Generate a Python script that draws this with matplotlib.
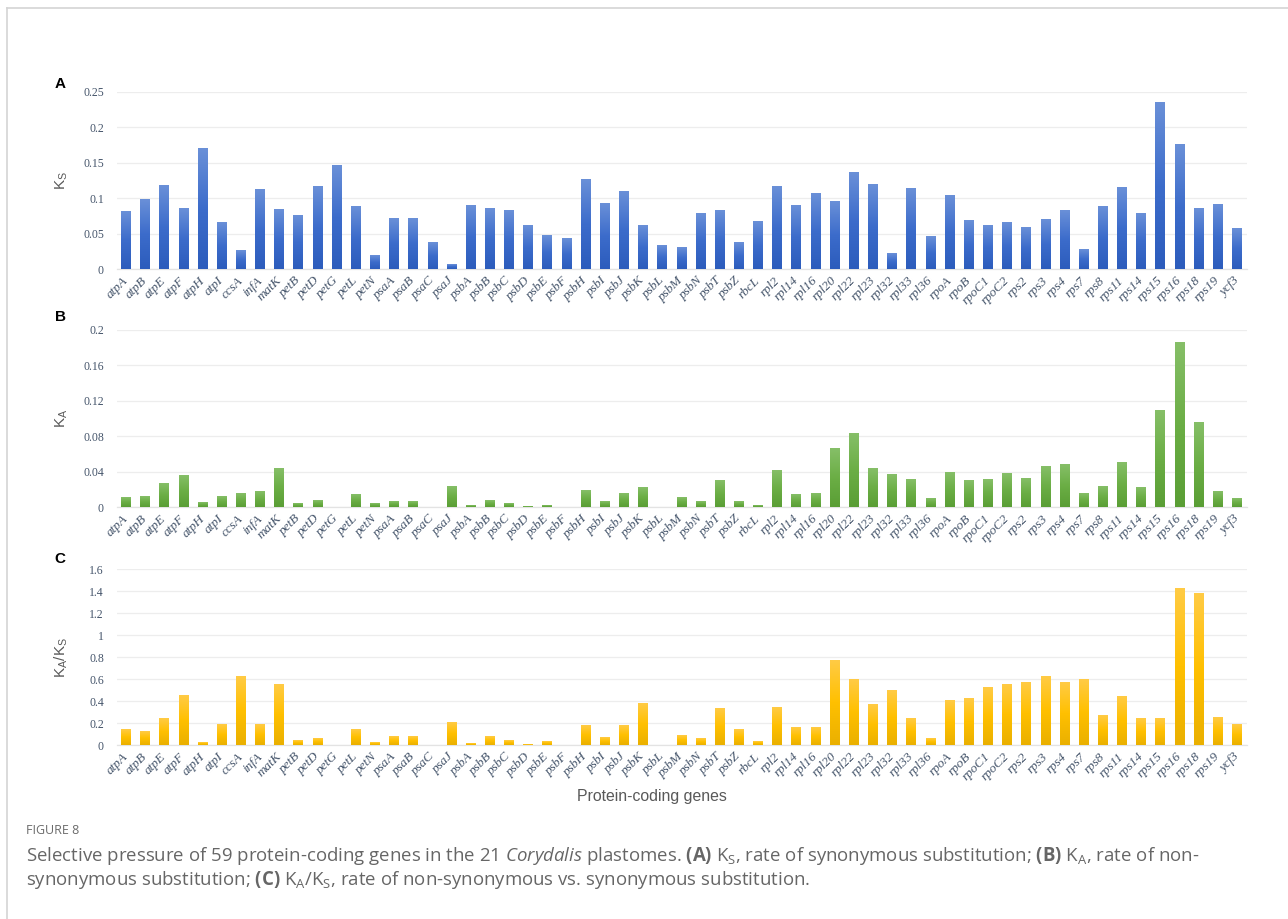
import numpy as np
import matplotlib
matplotlib.use("Agg")
import matplotlib.pyplot as plt
from matplotlib.colors import LinearSegmentedColormap
from matplotlib.lines import Line2D
from matplotlib.ticker import FuncFormatter, MultipleLocator

plt.rcParams['mathtext.fontset'] = 'custom'
plt.rcParams['mathtext.default'] = 'regular'
plt.rcParams['mathtext.rm'] = 'Open Sans'
plt.rcParams['mathtext.it'] = 'Open Sans:italic'
plt.rcParams['mathtext.bf'] = 'Open Sans:bold'

# ---------------- data: 59 plastome protein-coding genes ----------------
genes = ["atpA", "atpB", "atpE", "atpF", "atpH", "atpI", "ccsA", "infA", "matK",
         "petB", "petD", "petG", "petL", "petN", "psaA", "psaB", "psaC", "psaJ",
         "psbA", "psbB", "psbC", "psbD", "psbE", "psbF", "psbH", "psbI", "psbJ",
         "psbK", "psbL", "psbM", "psbN", "psbT", "psbZ", "rbcL", "rpl2", "rpl14",
         "rpl16", "rpl20", "rpl22", "rpl23", "rpl32", "rpl33", "rpl36", "rpoA",
         "rpoB", "rpoC1", "rpoC2", "rps2", "rps3", "rps4", "rps7", "rps8", "rps11",
         "rps14", "rps15", "rps16", "rps18", "rps19", "ycf3"]

ks = [0.081, 0.098, 0.118, 0.086, 0.170, 0.065, 0.026, 0.112, 0.084,
      0.076, 0.117, 0.146, 0.088, 0.019, 0.071, 0.071, 0.038, 0.007,
      0.090, 0.086, 0.082, 0.062, 0.047, 0.043, 0.127, 0.093, 0.110,
      0.062, 0.033, 0.031, 0.078, 0.082, 0.038, 0.067, 0.117, 0.089,
      0.107, 0.095, 0.136, 0.119, 0.022, 0.114, 0.046, 0.104,
      0.068, 0.062, 0.066, 0.059, 0.070, 0.082, 0.028, 0.088, 0.115,
      0.078, 0.235, 0.176, 0.086, 0.091, 0.057]

ka = [0.0105, 0.0117, 0.0264, 0.0358, 0.0049, 0.0120, 0.0154, 0.0180, 0.0433,
      0.0034, 0.0072, 0.0, 0.0136, 0.0045, 0.0060, 0.0057, 0.0, 0.0237,
      0.0020, 0.0068, 0.0034, 0.0008, 0.0019, 0.0, 0.0188, 0.0060, 0.0158,
      0.0222, 0.0, 0.0102, 0.0060, 0.0294, 0.0060, 0.0015, 0.0410, 0.0143,
      0.0150, 0.0659, 0.0825, 0.0440, 0.0362, 0.0316, 0.0094, 0.0395,
      0.0294, 0.0316, 0.0373, 0.0320, 0.0456, 0.0475, 0.0158, 0.0230, 0.0505,
      0.0215, 0.1096, 0.1860, 0.0960, 0.0170, 0.0094]

ka_ks = [0.139, 0.127, 0.244, 0.452, 0.027, 0.184, 0.623, 0.184, 0.548,
         0.039, 0.063, 0.0, 0.145, 0.021, 0.081, 0.078, 0.0, 0.208,
         0.018, 0.078, 0.039, 0.009, 0.036, 0.0, 0.181, 0.072, 0.178,
         0.377, 0.0, 0.084, 0.057, 0.331, 0.145, 0.030, 0.340, 0.163,
         0.163, 0.765, 0.593, 0.367, 0.500, 0.238, 0.060, 0.401,
         0.425, 0.521, 0.551, 0.566, 0.627, 0.569, 0.593, 0.268, 0.440,
         0.244, 0.241, 1.422, 1.373, 0.250, 0.184]

W, H = 1288, 919
fig = plt.figure(figsize=(W / 100, H / 100), dpi=100)

TICK_COLOR = "#44546A"
GRID_COLOR = "#EDEDED"


def px_axes(left, top, right, bottom):
    return fig.add_axes([left / W, 1 - bottom / H, (right - left) / W, (bottom - top) / H])


def gradient_bars(ax, x, vals, stops):
    # each bar gets its own light-top / dark-bottom fill
    cmap = LinearSegmentedColormap.from_list("g", [(0, stops[2]), (0.5, stops[1]), (1, stops[0])])
    grad = np.linspace(1, 0, 128).reshape(-1, 1)
    bars = ax.bar(x, vals, width=0.52, facecolor="none", edgecolor="none", zorder=4)
    for b in bars:
        h = b.get_height()
        if h <= 0:
            continue
        x0 = b.get_x()
        ax.imshow(grad, extent=(x0, x0 + b.get_width(), 0, h), origin="upper",
                  cmap=cmap, aspect="auto", interpolation="bilinear", zorder=3)


panels = [
    # values, top px, bottom px, ymax, step, colours (top, mid, bottom), ylabel, letter, letter y
    (ks, 92, 269, 0.25, 0.05, ("#6A90D8", "#3C6CCB", "#2C5CBC"), "K$_S$", "A", 84),
    (ka, 330, 507, 0.20, 0.04, ("#86BF68", "#6BAE45", "#5A9E35"), "K$_A$", "B", 317),
    (ka_ks, 569, 745, 1.60, 0.20, ("#FFCB45", "#FFC000", "#EAB000"), "K$_A$/K$_S$", "C", 559),
]

x = np.arange(len(genes))
for vals, top, bottom, ymax, step, stops, ylab, letter, ly in panels:
    ax = px_axes(116.5, top, 1246.6, bottom)
    gradient_bars(ax, x, vals, stops)
    ax.set_xlim(-0.5, len(genes) - 0.5)
    ax.set_ylim(0, ymax)
    ax.yaxis.set_major_locator(MultipleLocator(step))
    ax.yaxis.set_major_formatter(FuncFormatter(lambda v, _: f"{v:g}"))
    ax.grid(axis="y", color=GRID_COLOR, lw=0.9, zorder=0)
    ax.set_axisbelow(True)
    for s in ("top", "right", "left"):
        ax.spines[s].set_visible(False)
    ax.spines["bottom"].set_color("#E3E3E3")
    ax.spines["bottom"].set_linewidth(0.9)
    ax.tick_params(axis="y", length=0, pad=9, labelsize=8.5, labelcolor=TICK_COLOR)
    for t in ax.get_yticklabels():
        t.set_family("Liberation Serif")
    ax.set_xticks(x)
    ax.set_xticklabels(genes, rotation=45, ha="right", va="center", rotation_mode="anchor",
                       family="Liberation Serif", style="italic", fontsize=9.5, color=TICK_COLOR)
    ax.tick_params(axis="x", length=0, pad=7)
    ax.set_ylabel(ylab, family="Liberation Sans", fontsize=11, color="#595959")
    ax.yaxis.set_label_coords(-0.041, 0.5)
    fig.text(60 / W, 1 - ly / H, letter, family="Liberation Sans", fontweight="bold",
             fontsize=11, ha="center", va="center", color="black")

fig.text(652 / W, 1 - 796 / H, "Protein-coding genes", family="Liberation Sans",
         fontsize=11.4, color="#595959", ha="center", va="center")

# caption block
fig.text(26 / W, 1 - 830 / H, "FIGURE 8", family="Open Sans", fontsize=9,
         color="#6B6B6B", va="center")
fig.text(26 / W, 1 - 856 / H,
         "Selective pressure of 59 protein-coding genes in the 21 $\\it{Corydalis}$ plastomes. "
         "$\\bf{(A)}$ K$_S$, rate of synonymous substitution; $\\bf{(B)}$ K$_A$, rate of non-",
         family="Open Sans", fontsize=13.4, color="#666666", va="center")
fig.text(26 / W, 1 - 880 / H,
         "synonymous substitution; $\\bf{(C)}$ K$_A$/K$_S$, rate of non-synonymous vs. synonymous substitution.",
         family="Open Sans", fontsize=13.4, color="#666666", va="center")

# page frame
fig.add_artist(Line2D([7 / W, 7 / W], [0, 1 - 8 / H], transform=fig.transFigure, color="#D4D4D4", lw=1.2))
fig.add_artist(Line2D([7 / W, 1], [1 - 8 / H, 1 - 8 / H], transform=fig.transFigure, color="#D4D4D4", lw=1.2))

fig.savefig("out.png", dpi=100)
